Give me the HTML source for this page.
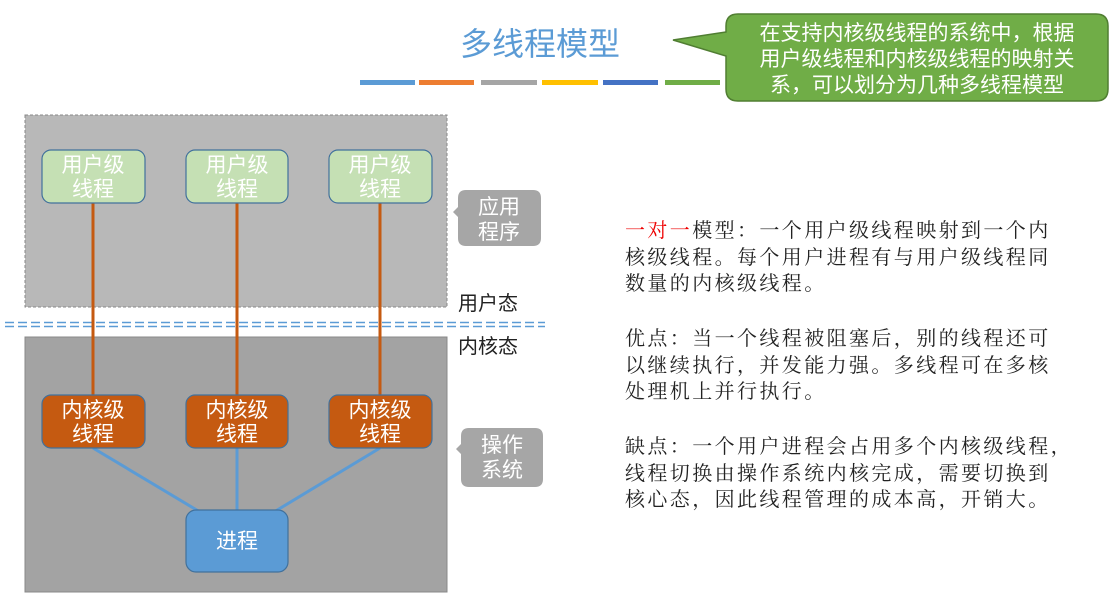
<!DOCTYPE html>
<html><head><meta charset="utf-8"><style>
body{margin:0;width:1115px;height:602px;background:#fff;overflow:hidden;position:relative;font-family:"Liberation Sans","Noto Sans CJK SC",sans-serif}
.t{position:absolute;left:625px;font-family:"Liberation Serif","Noto Serif CJK SC",serif;font-size:20px;letter-spacing:2.4px;line-height:26.5px;color:#222;white-space:nowrap}
</style></head><body>
<svg width="1115" height="602" style="position:absolute;left:0;top:0" font-family="Liberation Sans, Noto Sans CJK SC, sans-serif">
<text x="540" y="55" font-size="32" fill="#5b9bd5" text-anchor="middle">多线程模型</text>
<g>
<rect x="360" y="80" width="55" height="5" fill="#5b9bd5"/>
<rect x="419" y="80" width="55" height="5" fill="#ed7d31"/>
<rect x="481" y="80" width="56" height="5" fill="#a5a5a5"/>
<rect x="542" y="80" width="56" height="5" fill="#ffc000"/>
<rect x="603" y="80" width="55" height="5" fill="#4472c4"/>
<rect x="665" y="80" width="55" height="5" fill="#70ad47"/>
</g>
<path d="M738 14 H1096 Q1108 14 1108 26 V89 Q1108 101 1096 101 H738 Q726 101 726 89 V56 L673 40 L726 32 V26 Q726 14 738 14 Z" fill="#70ad47" stroke="#507e32" stroke-width="1.5"/>
<g font-size="21" fill="#fff" text-anchor="middle">
<text x="917" y="40">在支持内核级线程的系统中，根据</text>
<text x="917" y="66">用户级线程和内核级线程的映射关</text>
<text x="917" y="92">系，可以划分为几种多线程模型</text>
</g>
<rect x="25" y="115" width="422" height="192" fill="#b8b8b8" stroke="#888" stroke-dasharray="3,2"/>
<rect x="25" y="337" width="422" height="255" fill="#a3a3a3" stroke="#888"/>
<line x1="5" y1="322.5" x2="545" y2="322.5" stroke="#5b9bd5" stroke-width="1.5" stroke-dasharray="9,4"/>
<line x1="5" y1="326.5" x2="545" y2="326.5" stroke="#5b9bd5" stroke-width="1.5" stroke-dasharray="9,4"/>
<g stroke="#c55a11" stroke-width="3">
<line x1="93" y1="203" x2="93" y2="395"/><line x1="237" y1="203" x2="237" y2="395"/><line x1="380" y1="203" x2="380" y2="395"/>
</g>
<g stroke="#5b9bd5" stroke-width="3">
<line x1="93" y1="448" x2="200" y2="512"/><line x1="237" y1="448" x2="237" y2="510"/><line x1="380" y1="448" x2="274" y2="512"/>
</g>
<g fill="#c5e0b4" stroke="#41719c" stroke-width="1.2">
<rect x="42" y="150" width="103" height="53" rx="9"/><rect x="186" y="150" width="102" height="53" rx="9"/><rect x="329" y="150" width="103" height="53" rx="9"/>
</g>
<g fill="#c55a11" stroke="#41719c" stroke-width="1.2">
<rect x="42" y="395" width="103" height="53" rx="9"/><rect x="186" y="395" width="102" height="53" rx="9"/><rect x="329" y="395" width="103" height="53" rx="9"/>
</g>
<rect x="186" y="510" width="102" height="62" rx="10" fill="#5b9bd5" stroke="#41719c" stroke-width="1.2"/>
<g font-size="21" fill="#fff" text-anchor="middle">
<text x="93" y="172">用户级</text><text x="93" y="196">线程</text>
<text x="237" y="172">用户级</text><text x="237" y="196">线程</text>
<text x="380" y="172">用户级</text><text x="380" y="196">线程</text>
<text x="93" y="417">内核级</text><text x="93" y="441">线程</text>
<text x="237" y="417">内核级</text><text x="237" y="441">线程</text>
<text x="380" y="417">内核级</text><text x="380" y="441">线程</text>
<text x="237" y="548">进程</text>
</g>
<path d="M466 190 H533 Q541 190 541 198 V238 Q541 246 533 246 H466 Q458 246 458 238 V217 L453 212 L458 207 V198 Q458 190 466 190 Z" fill="#a6a6a6"/>
<path d="M469 428 H535 Q543 428 543 436 V479 Q543 487 535 487 H469 Q461 487 461 479 V454 L456 449 L461 444 V436 Q461 428 469 428 Z" fill="#a6a6a6"/>
<g font-size="21" fill="#fff" text-anchor="middle">
<text x="499" y="214">应用</text><text x="499" y="239">程序</text>
<text x="502" y="452">操作</text><text x="502" y="477">系统</text>
</g>
<g font-size="20" fill="#222">
<text x="458" y="310">用户态</text>
<text x="458" y="353">内核态</text>
</g>
</svg>
<div class="t" style="top:218px"><span style="color:#e00">一对一</span>模型：一个用户级线程映射到一个内<br>核级线程。每个用户进程有与用户级线程同<br>数量的内核级线程。</div>
<div class="t" style="top:326px">优点：当一个线程被阻塞后，别的线程还可<br>以继续执行，并发能力强。多线程可在多核<br>处理机上并行执行。</div>
<div class="t" style="top:434px">缺点：一个用户进程会占用多个内核级线程，<br>线程切换由操作系统内核完成，需要切换到<br>核心态，因此线程管理的成本高，开销大。</div>
</body></html>
